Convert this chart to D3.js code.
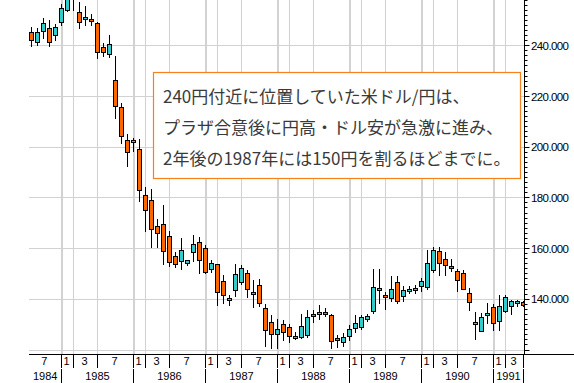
<!DOCTYPE html>
<html><head><meta charset="utf-8">
<script src="https://cdn.jsdelivr.net/npm/d3@7/dist/d3.min.js"></script>
<style>html,body{margin:0;padding:0;background:#fff;}svg{display:block}</style>
</head><body>
<svg id="chart" width="574" height="383"></svg>
<script>
// ---- data (monthly USD/JPY candles, Aug 1984 .. Jun 1991) ----
const startMonth = "1984-08";
const openVals  = [245.3,241.4,245.7,246.9,244.1,249.3,254.0,262.0,253.2,250.4,250.4,248.9,239.4,236.6,226.4,215.7,202.7,201.9,199.2,181.0,179.1,168.8,169.6,164.9,157.0,155.0,154.2,158.5,162.5,160.1,151.8,153.8,147.1,139.6,143.6,146.7,150.3,142.0,145.5,136.5,130.9,126.2,130.1,129.0,124.6,125.0,125.8,134.1,134.1,134.9,133.7,124.6,123.0,125.4,128.6,129.0,132.1,135.3,143.6,141.6,140.4,146.7,141.2,143.2,143.6,145.1,144.7,151.4,158.7,155.8,153.0,151.0,150.3,142.4,130.1,127.4,133.7,136.8,131.3,135.3,137.2,138.4,138.8];
const highVals  = [247.3,246.9,250.8,250.1,248.5,256.5,263.0,263.5,257.2,255.7,252.5,249.3,241.0,244.1,235.9,217.3,205.1,203.5,203.1,184.2,183.4,171.6,177.2,166.8,158.5,164.1,155.5,165.2,164.5,161.4,155.5,154.0,149.5,141.6,153.8,153.4,151.6,147.5,147.9,138.0,133.7,132.1,131.7,130.1,127.0,134.1,135.7,135.7,137.6,136.4,134.1,125.8,126.6,129.7,133.7,133.7,134.1,151.8,151.8,142.8,149.1,149.1,145.1,145.1,145.5,148.4,159.4,160.6,160.6,158.7,155.8,151.8,151.4,144.3,134.9,134.5,138.4,138.0,141.6,141.6,139.6,139.6,139.5];
const lowVals   = [239.6,240.0,242.8,239.3,242.0,247.7,253.2,253.5,246.5,247.7,247.7,234.9,235.7,235.3,211.2,201.4,192.3,198.2,178.5,166.7,160.1,160.1,153.5,152.9,152.5,151.7,153.3,154.7,150.1,150.0,150.3,137.2,138.0,137.5,140.8,145.5,140.4,136.5,136.8,121.1,120.3,120.3,123.4,122.6,123.8,124.2,124.6,130.5,131.7,132.9,120.3,120.7,121.1,123.4,126.6,127.8,130.9,134.1,138.0,135.7,138.8,138.0,138.8,142.0,142.0,142.8,143.6,150.3,149.1,149.1,150.7,142.8,143.6,135.3,123.8,127.0,130.1,127.4,127.4,134.5,133.7,136.8,137.0];
const closeVals = [242.2,245.3,248.9,241.4,247.3,254.8,259.5,258.5,249.3,251.2,249.7,237.4,237.4,240.6,216.1,204.3,198.0,202.7,183.0,175.1,167.6,166.0,158.8,154.6,153.8,159.1,155.1,161.7,155.1,150.5,154.2,142.8,141.6,140.4,149.9,152.2,143.9,142.8,138.4,127.8,126.2,128.2,127.0,125.4,125.4,129.3,132.9,133.3,134.9,134.1,123.4,123.8,125.0,128.2,130.5,132.9,133.3,144.7,144.3,140.8,143.9,139.2,143.6,143.9,144.3,147.2,154.2,159.1,154.2,153.4,152.2,147.5,143.9,138.8,130.9,132.9,134.5,130.5,137.2,140.8,139.2,139.2,137.6];
const yTickLabels = [140,160,180,200,220,240];
const markMonths = [1,3,7];
const years = [1984,1985,1986,1987,1988,1989,1990,1991];
const noteLines = ["240円付近に位置していた米ドル/円は、","プラザ合意後に円高・ドル安が急激に進み、","2年後の1987年には150円を割るほどまでに。"];

// ---- layout ----
const W = 574, H = 383;
const plotL = 29, plotR = 524.5, plotT = 0, plotB = 354;
const svg = d3.select("#chart");

const parse = d3.timeParse("%Y-%m");
const dates = openVals.map((_, i) => d3.timeMonth.offset(parse(startMonth), i));
const mIndex = (yr, mo) => (yr - 1984) * 12 + (mo - 1) - 6; // Jul 1984 = 0
const mOfDate = d => mIndex(d.getFullYear(), d.getMonth() + 1);
const lastM = mOfDate(dates[dates.length - 1]);

const x = d3.scaleLinear().domain([0, lastM]).range([25.5, 25.5 + 6 * lastM]);
const y = d3.scaleLinear().domain([120, 240]).range([350, 45.7]);
const px = v => Math.floor(v) + 0.5;

svg.append("defs").append("clipPath").attr("id", "clip")
  .append("rect").attr("x", plotL).attr("y", plotT).attr("width", plotR - plotL).attr("height", plotB - plotT);

const plot = svg.append("g").attr("clip-path", "url(#clip)");

// horizontal grid
plot.selectAll("line.hg").data(d3.range(120, 241, 20)).join("line")
  .attr("x1", plotL).attr("x2", plotR)
  .attr("y1", d => px(y(d))).attr("y2", d => px(y(d)))
  .attr("stroke", "#d2d2d2").attr("stroke-width", 1);

// vertical grid (Jan thick, Mar/Jul thin)
const gridMonths = [];
years.forEach(yr => markMonths.forEach(mo => {
  const m = mIndex(yr, mo);
  if (x(m) > plotL && x(m) < plotR) gridMonths.push({m, mo});
}));
plot.selectAll("line.vg").data(gridMonths).join("line")
  .attr("x1", d => d.mo === 1 ? x(d.m) + 0.5 : x(d.m))
  .attr("x2", d => d.mo === 1 ? x(d.m) + 0.5 : x(d.m))
  .attr("y1", plotT).attr("y2", plotB)
  .attr("stroke", "#d2d2d2").attr("stroke-width", d => d.mo === 1 ? 2 : 1);

// candles
const candles = dates.map((d, i) => ({m: mOfDate(d), o: openVals[i], h: highVals[i], l: lowVals[i], c: closeVals[i]}));
const cg = plot.selectAll("g.candle").data(candles).join("g");
cg.append("line")
  .attr("x1", d => x(d.m)).attr("x2", d => x(d.m))
  .attr("y1", d => Math.round(y(d.h))).attr("y2", d => Math.round(y(d.l)))
  .attr("stroke", "#000").attr("stroke-width", 1);
cg.append("rect")
  .attr("x", d => x(d.m) - 2).attr("width", 4)
  .attr("y", d => px(y(Math.max(d.o, d.c))))
  .attr("height", d => Math.max(1, px(y(Math.min(d.o, d.c))) - px(y(Math.max(d.o, d.c)))))
  .attr("fill", d => d.c >= d.o ? "#33cccc" : "#ff6600")
  .attr("stroke", "#000").attr("stroke-width", 1);

// right axis
const ax = svg.append("g");
ax.append("line").attr("x1", plotR).attr("x2", plotR).attr("y1", 0).attr("y2", plotB).attr("stroke", "#000");
ax.selectAll("line.tk").data(d3.range(120, 259, 2)).join("line")
  .attr("x1", plotR).attr("x2", d => plotR + (d % 20 === 0 ? 5 : 3))
  .attr("y1", d => px(y(d))).attr("y2", d => px(y(d)))
  .attr("stroke", "#000");
ax.selectAll("text").data(yTickLabels).join("text")
  .attr("x", 531).attr("y", d => y(d)).attr("dy", "0.36em")
  .attr("font-family", "'Liberation Sans', Arial, sans-serif").attr("font-size", 11.5)
  .attr("letter-spacing", "-0.6px")
  .attr("fill", "#000").text(d => d3.format(".3f")(d));

// bottom axis line
svg.append("line").attr("x1", plotL).attr("x2", W).attr("y1", plotB + 0.5).attr("y2", plotB + 0.5).attr("stroke", "#000");

// month row
const endX = x(lastM);
const bounds = [];
years.forEach(yr => markMonths.forEach(mo => {
  const m = mIndex(yr, mo);
  if (m >= 0 && m <= lastM) bounds.push({m, mo, yr});
}));
const monthCells = bounds.map((b, i) => {
  const x0 = Math.max(x(b.m), plotL);
  const x1 = i + 1 < bounds.length ? x(bounds[i + 1].m) : endX;
  return {x0, x1, mo: b.mo};
});
const bot = svg.append("g").attr("font-family", "'Liberation Sans', Arial, sans-serif").attr("font-size", 11).attr("fill", "#000");
bot.selectAll("text.mo").data(monthCells).join("text")
  .attr("x", d => (d.x0 + d.x1) / 2 - 1).attr("y", 361).attr("dy", "0.36em")
  .attr("text-anchor", "middle").text(d => d.mo);
const sepMonths = bounds.filter(b => x(b.m) > plotL).map(b => x(b.m)).concat([endX]);
bot.selectAll("line.ms").data(sepMonths).join("line")
  .attr("x1", d => d).attr("x2", d => d).attr("y1", plotB).attr("y2", 368)
  .attr("stroke", "#000");

// year row
const yearCells = years.map(yr => {
  const x0 = Math.max(x(mIndex(yr, 1)), plotL);
  const x1 = Math.min(x(mIndex(yr + 1, 1)), endX);
  return {yr, x0, x1};
});
bot.selectAll("text.yr").data(yearCells).join("text")
  .attr("x", d => (d.x0 + d.x1) / 2).attr("y", 376).attr("dy", "0.36em")
  .attr("text-anchor", "middle").text(d => d.yr);
const sepYears = years.slice(1).map(yr => x(mIndex(yr, 1))).concat([endX]);
bot.selectAll("line.ys").data(sepYears).join("line")
  .attr("x1", d => d).attr("x2", d => d).attr("y1", 369).attr("y2", H)
  .attr("stroke", "#000");

// annotation box
const note = svg.append("g");
note.append("rect").attr("x", 153.5).attr("y", 72.5).attr("width", 367).attr("height", 106)
  .attr("fill", "#fff").attr("stroke", "#f5821f").attr("stroke-width", 1.2);
note.selectAll("text").data(noteLines).join("text")
  .attr("x", 163).attr("y", (d, i) => 95 + i * 31).attr("dominant-baseline", "central")
  .attr("font-family", "'Noto Sans CJK JP', sans-serif").attr("font-size", 17)
  .attr("fill", "#3a3a3a").text(d => d);
</script>
</body></html>
